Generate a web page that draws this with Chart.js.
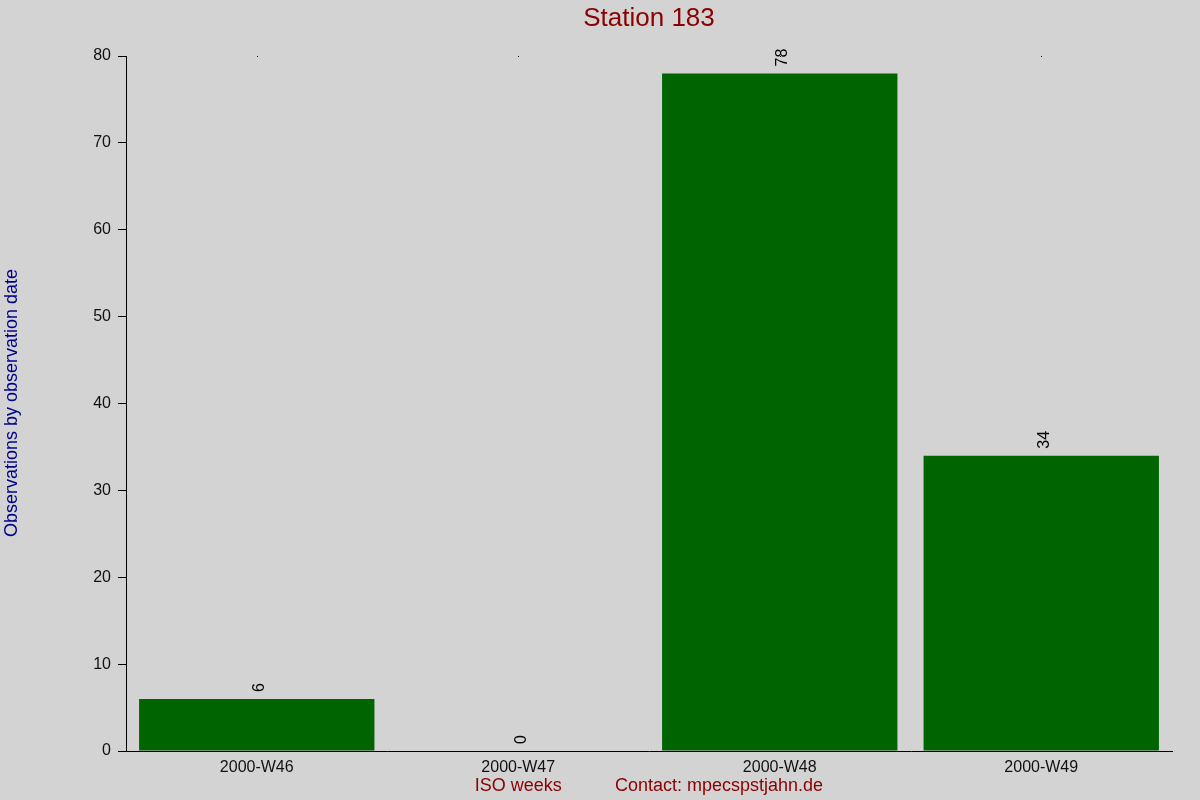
<!DOCTYPE html>
<html>
<head>
<meta charset="utf-8">
<title>Station 183</title>
<script src="https://cdn.jsdelivr.net/npm/chart.js@4"></script>
<style>
  html, body { margin: 0; padding: 0; background: #d3d3d3; }
  #wrap { width: 1200px; height: 800px; }
</style>
</head>
<body>
<div id="wrap"><canvas id="chart" width="1200" height="800"></canvas></div>
<script>
const weeks = ['2000-W46', '2000-W47', '2000-W48', '2000-W49'];
const observations = [6, 0, 78, 34];
const yTicks = [0, 10, 20, 30, 40, 50, 60, 70, 80];

const chartTitle = 'Station 183';
const xTitle = 'ISO weeks';
const contactText = 'Contact: mpecspstjahn.de';
const yTitle = 'Observations by observation date';

const FONT = '"Liberation Sans", Arial, sans-serif';

// paint the grey page behind everything
const background = {
    id: 'background',
    beforeDraw(chart) {
        const ctx = chart.ctx;
        ctx.save();
        ctx.fillStyle = '#d3d3d3';
        ctx.fillRect(0, 0, chart.width, chart.height);
        ctx.restore();
    }
};

// titles and the rotated value labels above the bars
const annotations = {
    id: 'annotations',
    afterDraw(chart) {
        const ctx = chart.ctx;
        const area = chart.chartArea;
        const x = chart.scales.x;
        ctx.save();

        ctx.fillStyle = '#8b0000';
        ctx.font = '26px ' + FONT;
        ctx.textAlign = 'center';
        ctx.textBaseline = 'middle';
        ctx.fillText(chartTitle, (area.left + area.right) / 2, 19);

        ctx.font = '18px ' + FONT;
        ctx.fillText(xTitle, x.getPixelForValue(1), 786);
        ctx.fillText(contactText, 719, 786);

        ctx.fillStyle = '#00008b';
        ctx.translate(12, 403);
        ctx.rotate(-Math.PI / 2);
        ctx.fillText(yTitle, 0, 0);
        ctx.setTransform(1, 0, 0, 1, 0, 0);

        // value labels, rotated to read bottom-up
        const meta = chart.getDatasetMeta(0);
        ctx.fillStyle = '#000';
        ctx.font = '16px ' + FONT;
        ctx.textAlign = 'left';
        meta.data.forEach((bar, i) => {
            ctx.save();
            ctx.translate(bar.x + 3, bar.y - 7);
            ctx.rotate(-Math.PI / 2);
            ctx.fillText(String(observations[i]), 0, 0);
            ctx.restore();
        });

        // small marks at the top of each category
        ctx.fillStyle = '#000';
        weeks.forEach((w, i) => {
            ctx.fillRect(Math.round(x.getPixelForValue(i)), area.top, 1, 1);
        });

        ctx.restore();
    }
};

new Chart(document.getElementById('chart'), {
    type: 'bar',
    data: {
        labels: weeks,
        datasets: [
            {
                label: chartTitle,
                data: observations,
                backgroundColor: '#006400',
                borderWidth: 0,
                categoryPercentage: 1.0,
                barPercentage: 0.9,
            },
        ],
    },
    options: {
        responsive: false,
        animation: false,
        devicePixelRatio: 1,
        layout: {
            padding: { top: 56, right: 28, left: 0, bottom: 0 }
        },
        plugins: {
            legend: { display: false },
            title: { display: false },
            tooltip: { enabled: false },
        },
        scales: {
            x: {
                grid: {
                    display: true,
                    drawOnChartArea: false,
                    drawTicks: false,
                },
                border: { display: true, color: '#000', width: 1 },
                ticks: {
                    color: '#111',
                    font: { family: FONT, size: 16 },
                    padding: 7,
                    maxRotation: 0,
                },
                afterFit: (scale) => { scale.height = 49; },
            },
            y: {
                min: 0,
                max: 80,
                afterBuildTicks: (scale) => {
                    scale.ticks = yTicks.map(v => ({ value: v }));
                },
                grid: {
                    drawOnChartArea: false,
                    drawTicks: true,
                    tickLength: 8,
                    color: '#000',
                },
                border: { display: true, color: '#000', width: 1 },
                ticks: {
                    color: '#111',
                    font: { family: FONT, size: 16 },
                    padding: 7,
                },
                afterFit: (scale) => { scale.width = 126; },
            },
        },
    },
    plugins: [background, annotations],
});
</script>
</body>
</html>
